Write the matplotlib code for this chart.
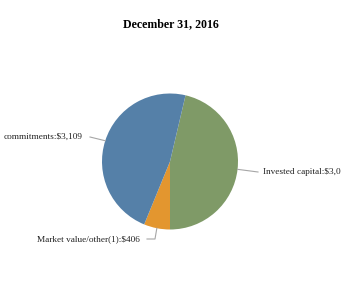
import numpy as np
import matplotlib.pyplot as plt

labels = ["Invested capital", "Market value/other(1)", "commitments"]
values = [3034, 406, 3109]
colors = ["#7F9A67", "#E3962F", "#5580A8"]
title = "December 31, 2016"

W, H = 341, 298
fig = plt.figure(figsize=(W / 100, H / 100), dpi=100)
ax = fig.add_axes([0, 0, 1, 1])

cx, cy, r = 170, H - 161.5, 68
total = sum(values)
start = 270 + values[0] / total * 360
wedges, _ = ax.pie(values, colors=colors, startangle=start, counterclock=False,
                   center=(cx, cy), radius=r, frame=True)
ax.set_xlim(0, W)
ax.set_ylim(0, H)
ax.set_aspect("equal")
ax.axis("off")

font = dict(family="Liberation Serif", fontsize=6.7, color="#222222")
lc = "#A6A6A6"

def edge(w):
    a = np.deg2rad((w.theta1 + w.theta2) / 2)
    return cx + r * np.cos(a), cy + r * np.sin(a)

# invested capital (right)
x0, y0 = edge(wedges[0])
ax.plot([x0, 258], [y0, H - 172], color=lc, lw=0.8)
ax.text(263, H - 172, f"{labels[0]}:${values[0]:,}", ha="left", va="center", **font)

# market value (bottom)
x0, y0 = edge(wedges[1])
ax.plot([x0, 155, 147], [y0, H - 239, H - 239], color=lc, lw=0.8)
ax.text(140, H - 239, f"{labels[1]}:${values[1]:,}", ha="right", va="center", **font)

# commitments (left)
x0, y0 = edge(wedges[2])
ax.plot([x0, 90], [y0, H - 137], color=lc, lw=0.8)
ax.text(83, H - 137, f"{labels[2]}:${values[2]:,}", ha="right", va="center", **font)

fig.text(171 / W, 1 - 24 / H, title, ha="center", va="center",
         family="Liberation Serif", fontsize=8.6, fontweight="bold")

fig.savefig("out.png", dpi=100)
